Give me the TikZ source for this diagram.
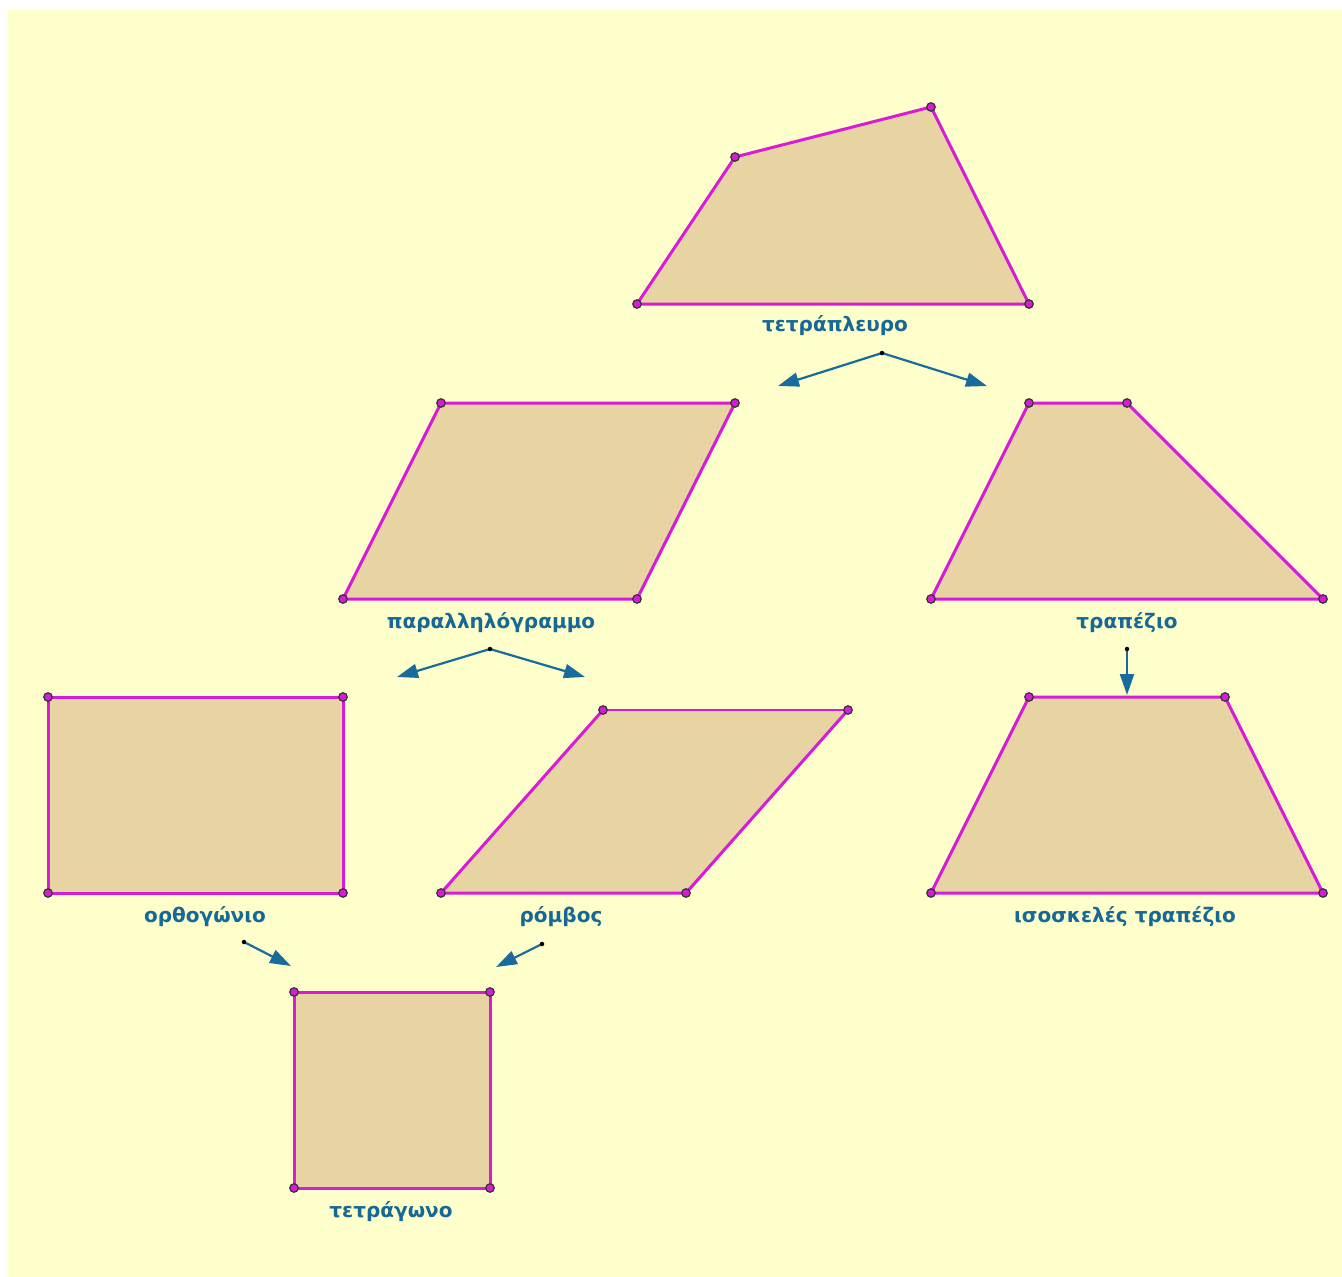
\documentclass[tikz,border=0pt]{standalone}
\usepackage{fontspec}
\setmainfont{DejaVu Sans}
\usetikzlibrary{arrows.meta}
\definecolor{paper}{RGB}{255,255,204}
\definecolor{shapefill}{RGB}{232,212,162}
\definecolor{edge}{RGB}{214,28,214}
\definecolor{labelblue}{RGB}{22,104,150}
\definecolor{arrowblue}{RGB}{24,108,156}
\tikzset{
  quad/.style={fill=shapefill, draw=edge, line width=3pt, line join=round},
  vertex/.style={circle, fill=edge, draw=black!80, line width=1.2pt, inner sep=0pt, minimum size=8.5pt},
  caption/.style={font=\bfseries\fontsize{20}{20}\selectfont, text=labelblue, inner sep=0pt, anchor=base},
  arrowlink/.style={draw=arrowblue, line width=2.2pt, -{Triangle[length=21pt,width=14pt]}},
  anchordot/.style={circle, fill=black, inner sep=0pt, minimum size=4.5pt}
}
\begin{document}
\begin{tikzpicture}[x=1pt,y=-1pt]
\useasboundingbox (0,0) rectangle (1342,1277);
\fill[white] (0,0) rectangle (1342,1277);
\fill[paper] (8,10) rectangle (1342,1277);

% quadrilateral
\coordinate (q1) at (637,304); \coordinate (q2) at (735,157);
\coordinate (q3) at (931,107); \coordinate (q4) at (1029,304);
\draw[quad] (q1) -- (q2) -- (q3) -- (q4) -- cycle;
\node[caption] (tq) at (835,331) {τετράπλευρο};

% parallelogram
\coordinate (p1) at (441,403); \coordinate (p2) at (735,403);
\coordinate (p3) at (637,599); \coordinate (p4) at (343,599);
\draw[quad] (p1) -- (p2) -- (p3) -- (p4) -- cycle;
\node[caption] (tp) at (491,628) {παραλληλόγραμμο};

% trapezoid
\coordinate (t1) at (1029,403); \coordinate (t2) at (1127,403);
\coordinate (t3) at (1323,599); \coordinate (t4) at (931,599);
\draw[quad] (t1) -- (t2) -- (t3) -- (t4) -- cycle;
\node[caption] (tt) at (1127,628) {τραπέζιο};

% rectangle
\coordinate (r1) at (48,697); \coordinate (r2) at (343,697);
\coordinate (r3) at (343,893); \coordinate (r4) at (48,893);
\draw[quad] (r1) -- (r2) -- (r3) -- (r4) -- cycle;
\node[caption] (tr) at (205,922) {ορθογώνιο};

% rhombus (thin top side)
\coordinate (h1) at (603,710); \coordinate (h2) at (848,710);
\coordinate (h3) at (686,893); \coordinate (h4) at (441,893);
\fill[shapefill] (h1) -- (h2) -- (h3) -- (h4) -- cycle;
\draw[edge, line width=3pt, line join=round] (h1) -- (h4) -- (h3) -- (h2);
\draw[edge, line width=1.6pt] (h1) -- (h2);
\node[caption] (th) at (561,922) {ρόμβος};

% isosceles trapezoid
\coordinate (i1) at (1029,697); \coordinate (i2) at (1225,697);
\coordinate (i3) at (1323,893); \coordinate (i4) at (931,893);
\draw[quad] (i1) -- (i2) -- (i3) -- (i4) -- cycle;
\node[caption] (ti) at (1125,922) {ισοσκελές τραπέζιο};

% square
\coordinate (s1) at (294,992); \coordinate (s2) at (490,992);
\coordinate (s3) at (490,1188); \coordinate (s4) at (294,1188);
\draw[quad] (s1) -- (s2) -- (s3) -- (s4) -- cycle;
\node[caption] (ts) at (391,1217) {τετράγωνο};

% vertex markers
\foreach \v in {q1,q2,q3,q4,p1,p2,p3,p4,t1,t2,t3,t4,r1,r2,r3,r4,h1,h2,h3,h4,i1,i2,i3,i4,s1,s2,s3,s4}
  \node[vertex] at (\v) {};

% hierarchy arrows
\coordinate (a0) at (882,353); \coordinate (a1) at (778,386); \coordinate (a2) at (987,386);
\coordinate (b0) at (490,649); \coordinate (b1) at (397,677); \coordinate (b2) at (585,677);
\coordinate (c0) at (1127,649); \coordinate (c1) at (1127,695);
\coordinate (d0) at (244,942); \coordinate (d1) at (291,966);
\coordinate (e0) at (542,944); \coordinate (e1) at (496,967);
\draw[arrowlink] (a0) -- (a1);
\draw[arrowlink] (a0) -- (a2);
\draw[arrowlink] (b0) -- (b1);
\draw[arrowlink] (b0) -- (b2);
\draw[arrowlink] (c0) -- (c1);
\draw[arrowlink] (d0) -- (d1);
\draw[arrowlink] (e0) -- (e1);
\foreach \v in {a0,b0,c0,d0,e0}
  \node[anchordot] at (\v) {};
\end{tikzpicture}
\end{document}
